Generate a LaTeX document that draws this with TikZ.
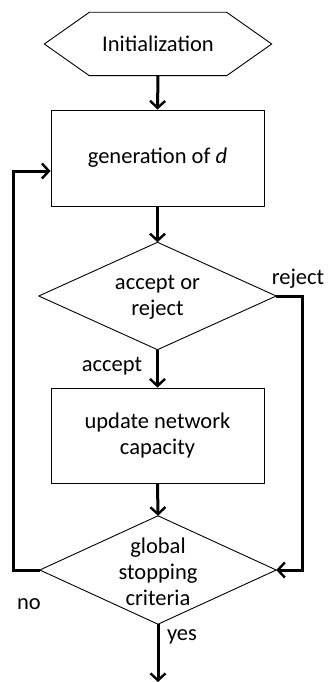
\documentclass[tikz,border=0pt]{standalone}
\usepackage{fontspec}
\setmainfont{Carlito}
\usetikzlibrary{arrows.meta}
\begin{document}
\begin{tikzpicture}[x=1pt,y=-1pt,
  txt/.style={font=\fontsize{22.5}{26}\selectfont, align=center, inner sep=0pt},
  frame/.style={draw=black, line width=0.9pt, fill=white},
  conn/.style={line width=3pt, -{Straight Barb[length=7pt,width=15pt,line width=2.4pt]}},
  lbl/.style={font=\fontsize{22.5}{26}\selectfont, inner sep=0pt}]
\useasboundingbox (0,0) rectangle (327,682);
% nodes
\node[txt, minimum width=227pt, minimum height=63pt] (init) at (158,44) {Initialization};
\draw[frame] (init.west) -- ([xshift=45pt]init.north west) -- ([xshift=-45pt]init.north east)
  -- (init.east) -- ([xshift=-45pt]init.south east) -- ([xshift=45pt]init.south west) -- cycle;
\node[txt] at (init) {Initialization};

\node[txt, frame, minimum width=213pt, minimum height=96pt] (gen) at (157.5,158) {generation of \textit{d}};

\node[txt, minimum width=237pt, minimum height=107pt] (d1) at (157.5,296) {};
\draw[frame] (d1.north) -- (d1.east) -- (d1.south) -- (d1.west) -- cycle;
\node[txt] at (157.5,297) {accept or\\reject};

\node[txt, frame, minimum width=213pt, minimum height=95pt] (upd) at (157.5,435.5) {update network\\capacity};

\node[txt, minimum width=236pt, minimum height=108pt] (d2) at (158,570) {};
\draw[frame] (d2.north) -- (d2.east) -- (d2.south) -- (d2.west) -- cycle;
\node[txt] at (158,572) {global\\stopping\\criteria};

\coordinate (end) at (158,682);
\coordinate (rr) at (302,296);
\coordinate (ll) at (13,570);

% connectors
\draw[conn] (init.south) -- (gen.north);
\draw[conn] (gen.south) -- (d1.north);
\draw[conn] (d1.south) -- (upd.north);
\draw[conn] (upd.south) -- (d2.north);
\draw[conn] (d2.south) -- (end);
\draw[conn] (d1.east) -- (rr) |- (d2.east);
\draw[conn] (d2.west) -- (ll) |- ([yshift=-13pt]gen.west);

% labels
\node[lbl] (lrej) at (298,279) {reject};
\node[lbl] (lacc) at (112,366) {accept};
\node[lbl] (lno) at (29,604) {no};
\node[lbl] (lyes) at (182,637) {yes};
\end{tikzpicture}
\end{document}
